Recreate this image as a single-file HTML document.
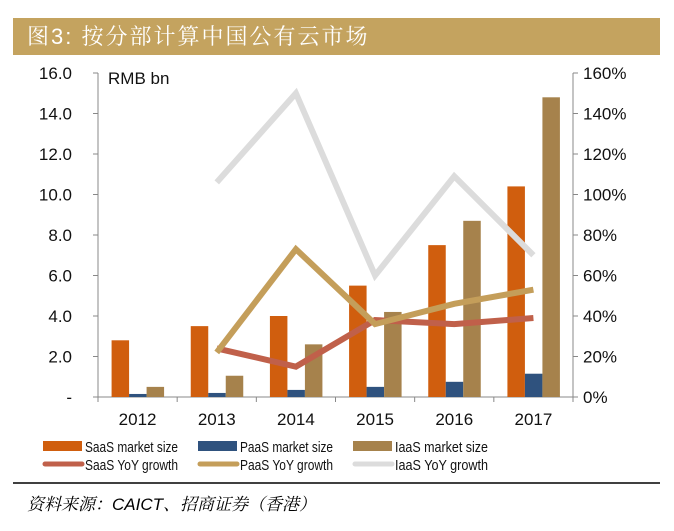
<!DOCTYPE html>
<html><head><meta charset="utf-8"><style>
body{margin:0;background:#fff;width:674px;height:531px;overflow:hidden;font-family:"Liberation Sans","Noto Sans CJK SC",sans-serif;}
.title{position:absolute;left:13px;top:18px;width:647px;height:37px;background:#C4A35F;color:#fff;font-size:22px;line-height:37px;padding-left:14px;box-sizing:border-box;font-family:"Liberation Sans","Noto Serif CJK SC",serif;letter-spacing:2px;}
.src{position:absolute;left:27px;top:490px;font-size:17px;font-style:italic;font-family:"Liberation Sans","Noto Serif CJK SC",serif;}
</style></head><body>
<div class="title">图3: 按分部计算中国公有云市场</div>
<svg id="c" width="674" height="531" style="position:absolute;left:0;top:0"></svg>
<div class="src">资料来源：CAICT、招商证券（香港）</div>
<script>
const years=["2012","2013","2014","2015","2016","2017"];
const saas=[2.8,3.5,4.0,5.5,7.5,10.4];
const paas=[0.15,0.2,0.35,0.5,0.75,1.15];
const iaas=[0.5,1.05,2.6,4.2,8.7,14.8];
const saasG=[null,24,15,38,36,39];
const paasG=[null,22,73,36,46,53];
const iaasG=[null,106,150,60,109,70];
const leftTicks=["-","2.0","4.0","6.0","8.0","10.0","12.0","14.0","16.0"];
const rightTicks=["0%","20%","40%","60%","80%","100%","120%","140%","160%"];
const svg=document.getElementById('c');const NS='http://www.w3.org/2000/svg';
function el(t,a,txt){const e=document.createElementNS(NS,t);for(const k in a)e.setAttribute(k,a[k]);if(txt!=null)e.textContent=txt;svg.appendChild(e);return e;}
const X0=98,X1=573,Y0=397,Y1=73,cw=(X1-X0)/years.length;
const yL=v=>Y0-(v/16)*(Y0-Y1), yR=v=>Y0-(v/160)*(Y0-Y1), xc=i=>X0+cw*(i+0.5);
let a=el('line',{x1:X0,y1:Y1,x2:X0,y2:Y0,stroke:'#888','stroke-width':1});
a=el('line',{x1:X1,y1:Y1,x2:X1,y2:Y0,stroke:'#888','stroke-width':1});
a=el('line',{x1:X0-4,y1:Y0,x2:X1,y2:Y0,stroke:'#888','stroke-width':1});
leftTicks.forEach((t,i)=>{const y=Y0-i*(Y0-Y1)/8;el('line',{x1:X0-5,y1:y,x2:X0,y2:y,stroke:'#888'});
 const e=el('text',{x:X0-26,y:y+6,'font-size':17,'text-anchor':'end',fill:'#111'},t);});
rightTicks.forEach((t,i)=>{const y=Y0-i*(Y0-Y1)/8;el('line',{x1:X1,y1:y,x2:X1+5,y2:y,stroke:'#888'});
 const e=el('text',{x:X1+10,y:y+6,'font-size':17,fill:'#111'},t);});
for(let i=0;i<=years.length;i++){const x=X0+i*cw;el('line',{x1:x,y1:Y0,x2:x,y2:Y0+5,stroke:'#888'});}
years.forEach((yr,i)=>{const e=el('text',{x:xc(i),y:Y0+28,'font-size':17,'text-anchor':'middle',fill:'#111'},yr);});
let u=el('text',{x:108,y:84,'font-size':17,fill:'#111'},'RMB bn');
const bw=17.5;
[[saas,'#D05E0E','saas'],[paas,'#2F527E','paas'],[iaas,'#A6824C','iaas']].forEach(([arr,col,n],k)=>{
 arr.forEach((v,i)=>{const x=xc(i)-26+k*bw;const r=el('rect',{x:x,y:yL(v),width:bw,height:Y0-yL(v),fill:col});
 });});
[[iaasG,'#DCDCDC','iaas'],[saasG,'#C0604A','saas'],[paasG,'#C49E5A','paas']].forEach(([arr,col,n])=>{
 const pts=arr.map((v,i)=>v==null?null:xc(i)+','+yR(v)).filter(p=>p).join(' ');
 const p=el('polyline',{points:pts,fill:'none',stroke:col,'stroke-width':6,'stroke-linejoin':'miter'});
 });
const leg=[['SaaS market size','#D05E0E',0,0,'rect'],['PaaS market size','#2F527E',1,0,'rect'],['IaaS market size','#A6824C',2,0,'rect'],
['SaaS YoY growth','#C0604A',0,1,'line'],['PaaS YoY growth','#C49E5A',1,1,'line'],['IaaS YoY growth','#DCDCDC',2,1,'line']];
const lx=[43,198,353];
leg.forEach(([t,c,col,row,ty])=>{const x=lx[col],y=446+row*18;
 if(ty=='rect'){const r=el('rect',{x:x,y:y-5,width:39,height:10,fill:c});}
 else{const r=el('line',{x1:x+2,y1:y,x2:x+39,y2:y,stroke:c,'stroke-width':5,'stroke-linecap':'round'});}
 const e=el('text',{x:x+42,y:y+6,'font-size':15,fill:'#111',textLength:93,lengthAdjust:'spacingAndGlyphs'},t);});
u=el('line',{x1:13,y1:483,x2:660,y2:483,stroke:'#000','stroke-width':1.5});
</script>
</body></html>
